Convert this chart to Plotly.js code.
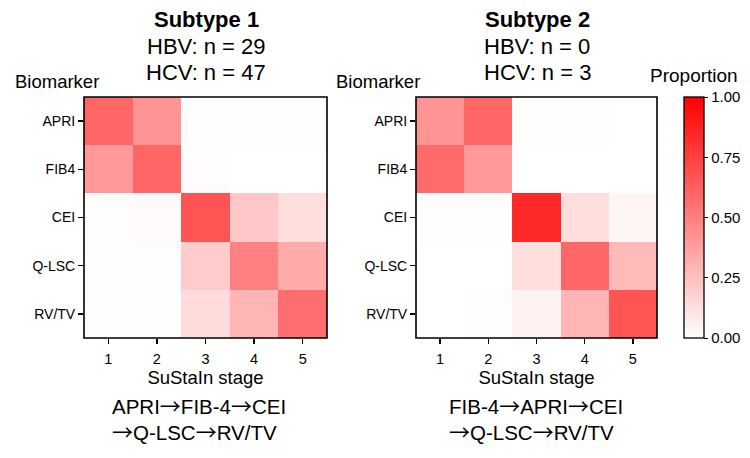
<!DOCTYPE html>
<html>
<head>
<meta charset="utf-8">
<script src="https://cdn.plot.ly/plotly-3.0.1.min.js"></script>
<style>
  html, body { margin: 0; padding: 0; background: #ffffff; }
  #chart { width: 750px; height: 458px; }
</style>
</head>
<body>
<div id="chart"></div>
<script>
// SuStaIn stages and biomarkers
const stages = ['1', '2', '3', '4', '5'];
const biomarkers = ['APRI', 'FIB4', 'CEI', 'Q-LSC', 'RV/TV'];

// Proportion of each biomarker reaching abnormality at each stage (rows follow biomarkers)
const subtype1 = [
  [0.60, 0.42, 0.01, 0.01, 0.01],
  [0.40, 0.60, 0.01, 0.00, 0.00],
  [0.01, 0.02, 0.67, 0.22, 0.13],
  [0.01, 0.01, 0.20, 0.50, 0.33],
  [0.01, 0.01, 0.14, 0.29, 0.57]
];
const subtype2 = [
  [0.42, 0.60, 0.01, 0.01, 0.00],
  [0.58, 0.40, 0.00, 0.00, 0.00],
  [0.01, 0.01, 0.84, 0.13, 0.04],
  [0.00, 0.00, 0.13, 0.60, 0.27],
  [0.00, 0.01, 0.05, 0.29, 0.67]
];

const titles = [
  ['<b>Subtype 1</b>', 'HBV: n = 29', 'HCV: n = 47'],
  ['<b>Subtype 2</b>', 'HBV: n = 0', 'HCV: n = 3']
];
// Event order of each subtype, split over two lines (leading '' = line starts with an arrow)
const sequences = [
  [['APRI', 'FIB-4', 'CEI'], ['', 'Q-LSC', 'RV/TV']],
  [['FIB-4', 'APRI', 'CEI'], ['', 'Q-LSC', 'RV/TV']]
];

const FONT = 'Liberation Sans, Arial, sans-serif';
const scale = [[0, '#ffffff'], [1, '#ff0000']];
const ARROW = '<span style="font-family:Noto Sans CJK JP;font-size:21px">\u2192</span>';

const traces = [
  {
    type: 'heatmap', z: subtype1, x: stages, y: biomarkers,
    xaxis: 'x', yaxis: 'y', zmin: 0, zmax: 1,
    colorscale: scale, showscale: false, xgap: 0, ygap: 0
  },
  {
    type: 'heatmap', z: subtype2, x: stages, y: biomarkers,
    xaxis: 'x2', yaxis: 'y2', zmin: 0, zmax: 1,
    colorscale: scale, showscale: true,
    colorbar: {
      x: 684 / 750, xanchor: 'left', xpad: 0,
      y: 120 / 458, yanchor: 'bottom', ypad: 0,
      lenmode: 'pixels', len: 241, thickness: 20,
      outlinewidth: 1.3, outlinecolor: '#000',
      tickvals: [0, 0.25, 0.5, 0.75, 1], tickformat: '.2f',
      ticks: 'outside', ticklen: 4, tickcolor: '#000',
      tickfont: { family: FONT, size: 15, color: '#000' }
    }
  }
];

function xAxis(domain, anchor) {
  return {
    domain: domain, anchor: anchor, type: 'category', range: [-0.5, 4.5],
    showline: false,
    ticks: 'outside', ticklen: 5, tickwidth: 1.3, tickcolor: '#000',
    ticklabelstandoff: 3,
    tickfont: { family: FONT, size: 14.5, color: '#000' },
    title: { text: 'SuStaIn stage', font: { family: FONT, size: 18.5, color: '#000' }, standoff: 4 },
    showgrid: false, zeroline: false, fixedrange: true
  };
}
function yAxis(anchor) {
  return {
    domain: [120 / 458, 361 / 458], anchor: anchor, type: 'category',
    autorange: 'reversed', showline: false,
    ticks: 'outside', ticklen: 5, tickwidth: 1.3, tickcolor: '#000',
    tickfont: { family: FONT, size: 14, color: '#000' },
    showgrid: false, zeroline: false, fixedrange: true
  };
}

const annotations = [];
const centers = [206, 537];
const leftLabel = [13, 334];
const seqLeft = [110, 447];
for (let i = 0; i < 2; i++) {
  titles[i].forEach((t, k) => {
    annotations.push({
      text: t, xref: 'paper', yref: 'paper', showarrow: false,
      x: centers[i] / 750, y: 1 - [20, 47, 73][k] / 458,
      xanchor: 'center', yanchor: 'middle',
      font: { family: FONT, size: 22, color: '#000' }
    });
  });
  sequences[i].forEach((parts, k) => {
    annotations.push({
      text: (parts[0] === '' ? ARROW : '') + parts.filter(p => p !== '').join(ARROW),
      xref: 'paper', yref: 'paper', showarrow: false,
      x: seqLeft[i] / 750, y: 1 - [405, 431][k] / 458,
      xanchor: 'left', yanchor: 'middle',
      font: { family: FONT, size: 20.5, color: '#000' }
    });
  });
  annotations.push({
    text: 'Biomarker', xref: 'paper', yref: 'paper', showarrow: false,
    x: leftLabel[i] / 750, y: 1 - 81 / 458,
    xanchor: 'left', yanchor: 'middle',
    font: { family: FONT, size: 18.5, color: '#000' }
  });
}
annotations.push({
  text: 'Proportion', xref: 'paper', yref: 'paper', showarrow: false,
  x: 694 / 750, y: 1 - 75 / 458, xanchor: 'center', yanchor: 'middle',
  font: { family: FONT, size: 19, color: '#000' }
});

// Black frame around each heatmap
const shapes = [['x', 'y'], ['x2', 'y2']].map(([xa, ya]) => ({
  type: 'rect', xref: xa + ' domain', yref: ya + ' domain',
  x0: 0, x1: 1, y0: 0, y1: 1, layer: 'above',
  line: { color: '#000', width: 1.6 }, fillcolor: 'rgba(0,0,0,0)'
}));

const layout = {
  width: 750, height: 458,
  margin: { l: 0, r: 0, t: 0, b: 0 },
  paper_bgcolor: '#ffffff', plot_bgcolor: '#ffffff',
  font: { family: FONT, color: '#000' },
  xaxis: xAxis([84 / 750, 327 / 750], 'y'),
  yaxis: yAxis('x'),
  xaxis2: xAxis([416 / 750, 657 / 750], 'y2'),
  yaxis2: yAxis('x2'),
  annotations: annotations,
  shapes: shapes,
  showlegend: false
};

Plotly.newPlot('chart', traces, layout, { displayModeBar: false, staticPlot: true });
</script>
</body>
</html>
